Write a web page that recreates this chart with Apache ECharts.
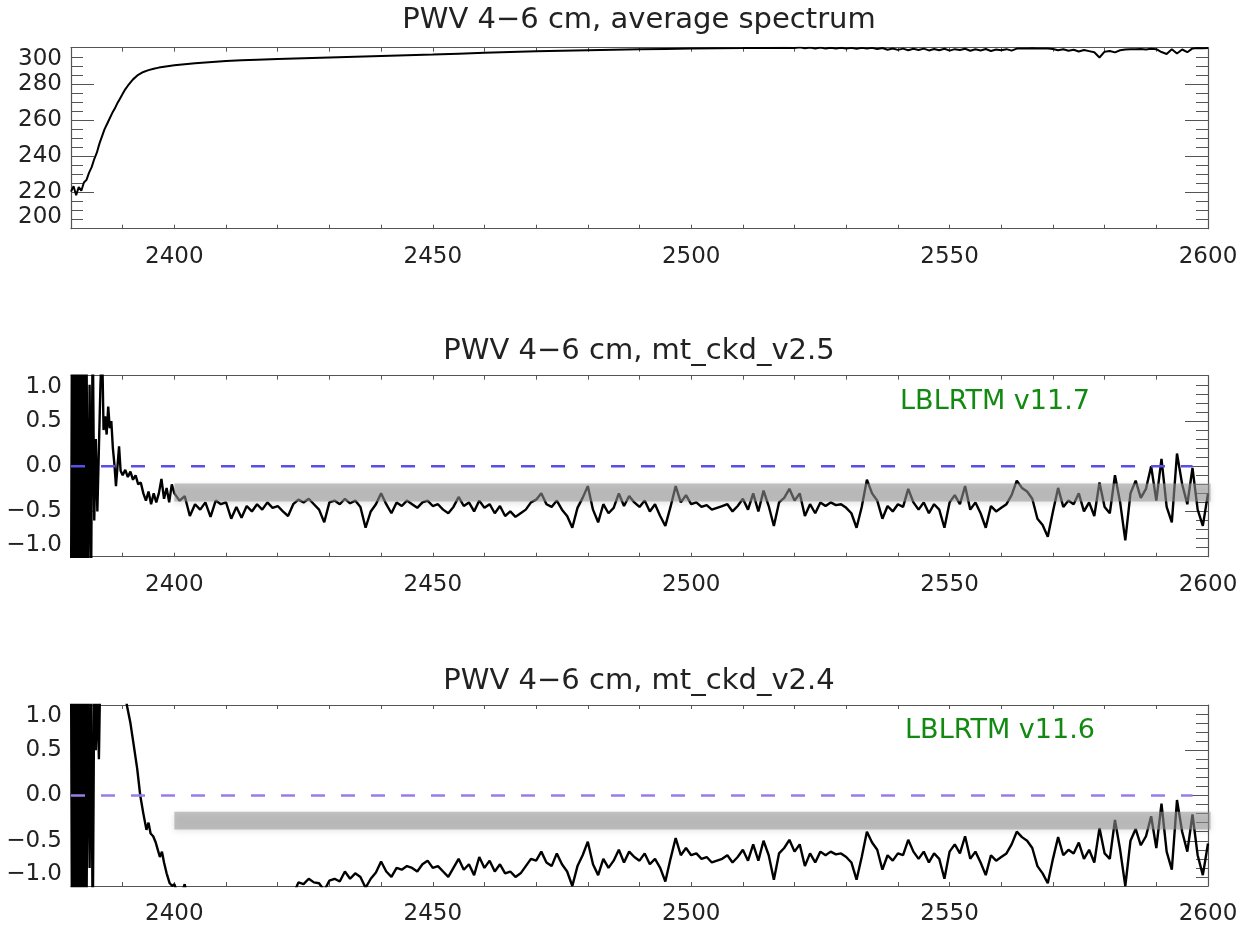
<!DOCTYPE html>
<html><head><meta charset="utf-8">
<script src="https://cdn.jsdelivr.net/npm/echarts@6/dist/echarts.min.js"></script>
<style>html,body{margin:0;padding:0;background:#fff}#c{width:1245px;height:943px}</style>
</head><body><div id="c"></div>
<script>
// ---------- data ----------
const panelTitles = ['PWV 4\u22126 cm, average spectrum', 'PWV 4\u22126 cm, mt_ckd_v2.5', 'PWV 4\u22126 cm, mt_ckd_v2.4'];
const annotations = ['LBLRTM v11.7', 'LBLRTM v11.6'];
const xLabelValues = [2400, 2450, 2500, 2550, 2600];

// top panel: average spectrum (wavenumber, value)
const topWn = [2380,2380.5,2381,2381.5,2382,2382.5,2383,2383.5,2384,2384.5,2385,2385.5,2386,2386.5,2387,2387.5,2388,2388.5,2389,2389.5,2390,2390.5,2391,2392,2393,2394,2395,2396,2397,2398,2399,2400,2402,2404,2406,2408,2410,2413,2416,2420,2425,2430,2435,2440,2445,2450,2455,2460,2465,2470,2475,2480,2485,2490,2495,2500,2505,2510,2514,2518,
2520,2521,2522,2523,2524,2525,2526,2527,2528,2529,2530,2531,2532,2533,2534,2535,2536,2537,2538,2539,2540,2541,2542,2543,2544,2545,2546,2547,2548,2549,2550,2551,2552,2553,2554,2555,2556,2557,2558,2559,2560,2561,2562,2563,2564,2565,2566,2567,2568,2569,2570,2571,2572,2573,2574,2575,2576,2577,2578,2579,2580,2581,2582,2583,2584,2585,2586,2587,2588,2589,2590,2591,2592,2593,2594,2595,2596,2597,2598,2599,2600];
const topVal = [220.5,223.5,218.5,223,221,225.5,227,231,234,238.5,242,247,251,255,258,261,264,266.5,269.5,272,274.5,277,279,282.5,285,286.6,287.6,288.4,289,289.5,289.9,290.3,290.9,291.4,291.8,292.2,292.6,293,293.4,293.8,294.2,294.6,295,295.4,295.8,296.2,296.7,297.2,297.6,298,298.3,298.6,298.9,299.1,299.3,299.5,299.7,299.8,299.9,300,
299.8,300.2,299.7,300.1,299.6,300.1,299.5,300,299.6,300,299.5,299.9,299.4,299.9,299.5,299.9,299.3,299.8,298.9,299.6,298.8,299.5,298.6,299.4,298.7,299.5,298.5,299.3,298.6,299.4,298.4,299.2,298.7,299.4,298.3,299.1,298.5,299.3,298.2,299,298.6,299.2,298.4,299.5,299.6,299.5,299.7,299.6,299.5,299.6,299.3,298.6,299.1,298.3,298.9,297.9,298.7,298.1,297.5,294.6,297.8,298.2,297.4,298.6,299,299.2,299.1,299.3,299,299.4,299.2,297.6,296.5,299.1,296.8,299,297.5,299.6,299.8,299.7,299.9];

// middle panel: mt_ckd_v2.5 residual; irregular edge (wavenumber, value) then 1 cm-1 samples from 2400
const midEdge = [[2380,-1.6],[2380.2,1.6],[2380.4,-1.5],[2380.6,1.4],[2380.8,-1.6],[2381,1.6],[2381.2,-1.3],[2381.4,1.5],[2381.6,-1.6],[2381.8,1.2],[2382,-1.5],[2382.2,1.6],[2382.4,-1.4],[2382.6,1.5],[2382.8,-1.6],[2383,1.3],[2383.3,-1.5],[2383.6,0.9],[2383.9,-1.2],[2384.2,1.6],[2384.5,-0.6],[2384.8,0.3],[2385.1,-0.5],[2385.4,0.2],[2385.7,0.9],[2386,1.4],[2386.3,0.4],[2386.6,0.55],[2386.9,0.35],[2387.2,0.66],[2387.5,0.42],[2387.8,0.5],[2388.1,0.2],[2388.4,0.02],[2388.7,-0.22],[2389,0.0],[2389.3,0.22],[2389.6,-0.05],[2390,-0.1],[2390.5,-0.04],[2391,-0.12],[2391.5,-0.06],[2392,-0.15],[2392.5,-0.1],[2393,-0.2],[2393.5,-0.18],[2394,-0.3],[2394.5,-0.38],[2395,-0.28],[2395.5,-0.42],[2396,-0.3],[2396.5,-0.4],[2397,-0.3],[2397.5,-0.14],[2398,-0.36],[2398.5,-0.24],[2399,-0.4],[2399.5,-0.2]];
const midStart = 2400;
const midVal = [
-0.30,-0.38,-0.33,-0.55,-0.42,-0.48,-0.40,-0.56,-0.38,-0.42,
-0.40,-0.58,-0.45,-0.57,-0.44,-0.50,-0.42,-0.48,-0.40,-0.46,
-0.44,-0.50,-0.55,-0.42,-0.37,-0.40,-0.36,-0.42,-0.48,-0.62,
-0.40,-0.38,-0.42,-0.36,-0.41,-0.38,-0.45,-0.68,-0.50,-0.42,
-0.30,-0.42,-0.52,-0.40,-0.44,-0.38,-0.42,-0.46,-0.40,-0.38,
-0.44,-0.42,-0.48,-0.52,-0.45,-0.34,-0.44,-0.40,-0.50,-0.38,
-0.46,-0.42,-0.52,-0.44,-0.55,-0.50,-0.56,-0.52,-0.48,-0.40,
-0.37,-0.30,-0.42,-0.45,-0.38,-0.48,-0.55,-0.68,-0.46,-0.35,
-0.22,-0.48,-0.62,-0.42,-0.52,-0.46,-0.30,-0.44,-0.33,-0.40,
-0.45,-0.38,-0.50,-0.42,-0.55,-0.66,-0.45,-0.22,-0.40,-0.32,
-0.42,-0.40,-0.45,-0.43,-0.48,-0.46,-0.44,-0.42,-0.50,-0.44,
-0.36,-0.48,-0.30,-0.50,-0.27,-0.44,-0.66,-0.40,-0.35,-0.25,
-0.38,-0.30,-0.55,-0.42,-0.52,-0.40,-0.44,-0.40,-0.43,-0.42,
-0.46,-0.52,-0.68,-0.45,-0.15,-0.30,-0.38,-0.58,-0.44,-0.50,
-0.42,-0.45,-0.25,-0.40,-0.48,-0.40,-0.52,-0.42,-0.48,-0.68,
-0.40,-0.32,-0.42,-0.22,-0.48,-0.40,-0.52,-0.68,-0.44,-0.50,
-0.46,-0.42,-0.32,-0.16,-0.24,-0.28,-0.36,-0.58,-0.65,-0.78,
-0.50,-0.24,-0.45,-0.38,-0.42,-0.30,-0.50,-0.40,-0.55,-0.18,
-0.45,-0.52,-0.10,-0.40,-0.82,-0.30,-0.16,-0.35,-0.25,0.00,
-0.38,0.08,-0.45,-0.62,0.14,-0.20,-0.42,-0.02,-0.48,-0.66,
-0.30];

// bottom panel: mt_ckd_v2.4 residual
const botEdge = [[2380,1.6],[2380.2,-1.6],[2380.4,1.5],[2380.6,-1.4],[2380.8,1.6],[2381,-1.6],[2381.2,1.3],[2381.4,-1.5],[2381.6,1.6],[2381.8,-1.2],[2382,1.5],[2382.2,-1.6],[2382.4,1.4],[2382.6,-1.5],[2382.8,1.6],[2383,-1.3],[2383.3,1.5],[2383.6,-0.8],[2383.9,1.4],[2384.2,-1.6],[2384.5,1.3],[2384.8,0.5],[2385.1,1.2],[2385.4,0.4],[2385.7,1.5],[2386,2.0],[2387,2.6],[2388,2.9],[2389,2.4],[2390,1.5],[2390.8,1.0],[2391.5,0.8],[2392.1,0.57],[2392.8,0.3],[2393.4,0.0],[2394,-0.2],[2394.6,-0.38],[2395,-0.3],[2395.4,-0.42],[2395.9,-0.45],[2396.4,-0.52],[2396.8,-0.6],[2397.2,-0.68],[2397.6,-0.62],[2398,-0.74],[2398.5,-0.86],[2399.1,-0.97],[2399.6,-1.0]];
const botStart = 2400;
const botVal = [
-0.98,-1.15,-0.98,-1.30,-1.20,-1.35,-1.25,-1.40,-1.22,-1.30,
-1.28,-1.45,-1.30,-1.42,-1.30,-1.35,-1.25,-1.30,-1.20,-1.25,
-1.22,-1.25,-1.28,-1.10,-0.96,-0.98,-0.92,-0.96,-0.97,-1.05,
-0.94,-0.92,-0.95,-0.84,-0.92,-0.86,-0.90,-1.02,-0.92,-0.85,
-0.73,-0.84,-0.90,-0.80,-0.82,-0.78,-0.80,-0.84,-0.76,-0.72,
-0.80,-0.78,-0.84,-0.90,-0.80,-0.70,-0.82,-0.76,-0.88,-0.68,
-0.80,-0.72,-0.84,-0.76,-0.86,-0.84,-0.90,-0.86,-0.78,-0.70,
-0.72,-0.62,-0.74,-0.78,-0.64,-0.76,-0.84,-1.00,-0.78,-0.66,
-0.51,-0.76,-0.88,-0.70,-0.80,-0.72,-0.60,-0.74,-0.62,-0.68,
-0.72,-0.64,-0.76,-0.70,-0.80,-0.95,-0.70,-0.47,-0.66,-0.58,
-0.66,-0.64,-0.70,-0.68,-0.74,-0.72,-0.70,-0.66,-0.74,-0.68,
-0.60,-0.72,-0.54,-0.72,-0.50,-0.66,-0.93,-0.64,-0.58,-0.49,
-0.62,-0.54,-0.78,-0.64,-0.74,-0.62,-0.66,-0.62,-0.65,-0.64,
-0.68,-0.74,-0.93,-0.68,-0.40,-0.52,-0.60,-0.82,-0.66,-0.72,
-0.64,-0.66,-0.49,-0.62,-0.70,-0.62,-0.74,-0.64,-0.70,-0.92,
-0.62,-0.54,-0.64,-0.45,-0.70,-0.62,-0.74,-0.88,-0.66,-0.72,
-0.68,-0.64,-0.54,-0.40,-0.46,-0.50,-0.58,-0.78,-0.86,-0.97,
-0.70,-0.46,-0.66,-0.60,-0.64,-0.52,-0.70,-0.60,-0.74,-0.36,
-0.64,-0.70,-0.27,-0.60,-1.00,-0.50,-0.37,-0.55,-0.45,-0.23,
-0.58,-0.09,-0.62,-0.82,-0.05,-0.40,-0.62,-0.21,-0.66,-0.88,
-0.53];

const zeroRef = [[2380, 0], [2597, 0]];
const midBand = [2400, 2600.5, -0.19, -0.39];
const botBand = [2400, 2600.5, -0.18, -0.375];

// ---------- chart ----------
const topPairs = topWn.map((w, i) => [w, topVal[i]]);
const midPairs = midEdge.concat(midVal.map((v, i) => [midStart + i, v]));
const botPairs = botEdge.concat(botVal.map((v, i) => [botStart + i, v]));

const FONT = 'DejaVu Sans';
const AX = '#555';
const gridTops = [47.7, 375.7, 705];
const grids = gridTops.map(t => ({left: 71, right: 37, top: t, height: 181, containLabel: false}));

function xAxes(g) {
  const base = {gridIndex: g, type: 'value', min: 2380, max: 2600, interval: 10,
    axisLine: {show: true, onZero: false, lineStyle: {color: AX, width: 1.2}},
    axisTick: {show: true, inside: true, length: 4, lineStyle: {color: AX}},
    splitLine: {show: false}};
  return [
    Object.assign({}, base, {position: 'bottom',
      axisLabel: {show: true, margin: 17, fontSize: 23, fontFamily: FONT, color: '#222',
        formatter: v => xLabelValues.indexOf(v) >= 0 ? String(v) : ''}}),
    Object.assign({}, base, {position: 'top', axisLabel: {show: false}})
  ];
}
function yAxes(g, min, max, interval, minorSplit, fmt) {
  const base = {gridIndex: g, type: 'value', min: min, max: max, interval: interval,
    axisLine: {show: true, onZero: false, lineStyle: {color: AX, width: 1.2}},
    axisTick: {show: true, inside: true, length: 23, lineStyle: {color: AX}},
    minorTick: {show: true, splitNumber: minorSplit, length: 12, lineStyle: {color: AX}},
    splitLine: {show: false}, minorSplitLine: {show: false}};
  return [
    Object.assign({}, base, {position: 'left',
      axisLabel: {show: true, margin: 9, fontSize: 23, fontFamily: FONT, color: '#222',
        verticalAlignMinLabel: 'bottom', verticalAlignMaxLabel: 'top', formatter: fmt}}),
    Object.assign({}, base, {position: 'right', axisLabel: {show: false}})
  ];
}
const fmtInt = v => String(v);
const fmtRes = v => v.toFixed(1).replace('-', '\u2212');

function bandSeries(xi, yi, band) {
  return {type: 'custom', xAxisIndex: xi, yAxisIndex: yi, z: 6, silent: true,
    dimensions: ['x0', 'x1', 'y0', 'y1'], encode: {x: [0, 1], y: [2, 3]},
    data: [band],
    renderItem: function (params, api) {
      const p0 = api.coord([api.value(0), api.value(2)]);
      const p1 = api.coord([api.value(1), api.value(3)]);
      return {type: 'rect', shape: {x: p0[0], y: p0[1], width: p1[0] - p0[0], height: p1[1] - p0[1]},
        style: {fill: 'rgba(150,150,150,0.56)', shadowBlur: 6, shadowOffsetY: 2, shadowColor: 'rgba(0,0,0,0.2)'}};
    }};
}
function dataLine(xi, yi, data, w) {
  return {type: 'line', xAxisIndex: xi, yAxisIndex: yi, data: data, showSymbol: false, symbol: 'none',
    clip: true, z: 2, lineStyle: {color: '#000', width: w}};
}
function zeroLine(xi, yi, color) {
  return {type: 'line', xAxisIndex: xi, yAxisIndex: yi, data: zeroRef, showSymbol: false, symbol: 'none',
    z: 4, lineStyle: {color: color, width: 2.6, type: [14, 16]}};
}

const titleStyle = {fontSize: 29, fontWeight: 'normal', fontFamily: FONT, color: '#222'};
const annStyle = {fontSize: 27, fontWeight: 'normal', fontFamily: FONT, color: '#128a12'};

const option = {
  backgroundColor: '#fff',
  animation: false,
  title: [
    {text: panelTitles[0], left: 639, top: 6, textAlign: 'center', padding: 0, textStyle: titleStyle},
    {text: panelTitles[1], left: 639, top: 337, textAlign: 'center', padding: 0, textStyle: titleStyle},
    {text: panelTitles[2], left: 639, top: 667, textAlign: 'center', padding: 0, textStyle: titleStyle},
    {text: annotations[0], left: 995, top: 388, textAlign: 'center', padding: 0, textStyle: annStyle},
    {text: annotations[1], left: 1000, top: 717, textAlign: 'center', padding: 0, textStyle: annStyle}
  ],
  grid: grids,
  xAxis: [].concat(xAxes(0), xAxes(1), xAxes(2)),
  yAxis: [].concat(
    yAxes(0, 200, 300, 20, 4, fmtInt),
    yAxes(1, -1, 1, 0.5, 5, fmtRes),
    yAxes(2, -1, 1, 0.5, 5, fmtRes)),
  series: [
    dataLine(0, 0, topPairs, 2),
    dataLine(2, 2, midPairs, 2.4),
    zeroLine(2, 2, '#5a4ee8'),
    bandSeries(2, 2, midBand),
    dataLine(4, 4, botPairs, 2.4),
    zeroLine(4, 4, '#9a7ce8'),
    bandSeries(4, 4, botBand)
  ]
};
const chart = echarts.init(document.getElementById('c'), null, {renderer: 'canvas'});
chart.setOption(option);
</script>
</body></html>
